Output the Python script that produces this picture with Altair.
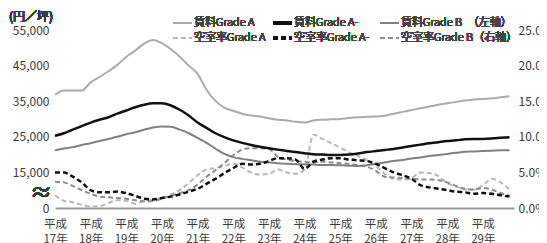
import json
import altair as alt
import pandas as pd

# ---- data (quarterly, 平成17年Q1 .. 平成29年Q4) ----
quarters = list(range(52))
year_labels = ["17年", "18年", "19年", "20年", "21年", "22年", "23年",
               "24年", "25年", "26年", "27年", "28年", "29年"]

rent_a = [36800, 38000, 38000, 38000, 40300, 41800, 43400, 45200, 47500, 49200,
          51200, 52200, 51300, 49600, 47500, 45000, 42700, 38200, 35100, 33200,
          32300, 31500, 31000, 30700, 30200, 29800, 29600, 29200, 29000, 29600,
          29800, 29900, 30000, 30300, 30500, 30600, 30700, 30900, 31500, 32000,
          32500, 33000, 33500, 34000, 34400, 34800, 35200, 35500, 35600, 35800,
          36100, 36400]
rent_am = [25300, 26000, 27000, 28000, 29000, 29800, 30500, 31500, 32400, 33300,
           34000, 34400, 34400, 33800, 32600, 31000, 29000, 27500, 26000, 24900,
           24000, 23300, 22700, 22200, 21800, 21400, 21000, 20700, 20400, 20100,
           20000, 19900, 19900, 20000, 20300, 20700, 21000, 21300, 21600, 22000,
           22400, 22800, 23200, 23500, 23800, 24000, 24300, 24400, 24400, 24500,
           24700, 24900]
rent_b = [21200, 21700, 22100, 22700, 23200, 23800, 24400, 25000, 25700, 26300,
          27000, 27600, 27900, 27800, 27000, 26000, 24700, 23300, 21700, 20200,
          19300, 18800, 18400, 18000, 17800, 17600, 17400, 17300, 17300, 17200,
          17100, 17100, 17000, 16900, 16800, 17000, 17400, 17800, 18200, 18500,
          18900, 19200, 19600, 19900, 20200, 20500, 20800, 20900, 21000, 21100,
          21200, 21200]
vac_a = [1.8, 1.0, 0.8, 0.45, 0.2, 0.25, 0.7, 1.1, 1.0, 0.6,
         1.0, 1.2, 1.4, 1.9, 2.5, 3.5, 4.6, 5.4, 5.6, 5.9,
         6.2, 5.7, 5.0, 4.7, 4.8, 5.4, 5.0, 4.8, 5.4, 10.3,
         9.7, 9.1, 8.5, 7.8, 7.3, 6.7, 5.9, 4.8, 4.1, 4.0,
         4.2, 5.0, 4.9, 4.5, 3.5, 3.0, 2.6, 2.6, 3.2, 4.1,
         3.6, 2.6]
vac_am = [5.0, 5.0, 4.4, 3.6, 2.5, 2.2, 2.2, 2.3, 2.1, 1.7,
          1.3, 1.2, 1.4, 1.6, 1.9, 2.3, 2.7, 3.4, 4.1, 4.9,
          5.6, 6.2, 6.1, 6.2, 6.6, 7.0, 7.0, 6.8, 5.5, 6.5,
          6.8, 7.0, 7.0, 6.8, 6.7, 6.6, 6.2, 5.6, 5.0, 4.6,
          4.1, 3.2, 2.9, 2.7, 2.5, 2.3, 2.2, 2.0, 2.1, 2.0,
          1.8, 1.6]
vac_b = [3.7, 3.6, 3.1, 2.5, 2.0, 1.6, 1.5, 1.4, 1.3, 1.1,
         0.95, 1.0, 1.3, 1.7, 2.1, 2.5, 3.3, 4.4, 5.3, 6.3,
         7.4, 8.2, 8.4, 8.4, 8.3, 7.2, 6.8, 6.6, 6.5, 6.4,
         6.5, 6.4, 6.3, 6.2, 6.0, 5.8, 5.2, 4.4, 4.3, 4.2,
         4.1, 4.0, 4.0, 3.9, 3.6, 3.1, 2.7, 2.6, 2.8, 2.6,
         2.1, 1.7]

series = [
    ("空室率Grade A", "vac", vac_a),
    ("空室率Grade B", "vac", vac_b),
    ("賃料Grade A", "rent", rent_a),
    ("賃料Grade B", "rent", rent_b),
    ("空室率Grade A-", "vac", vac_am),
    ("賃料Grade A-", "rent", rent_am),
]
styles = {
    "空室率Grade A": dict(color="#b8b8b8", strokeWidth=2, strokeDash=[5, 3]),
    "空室率Grade B": dict(color="#8c8c8c", strokeWidth=2, strokeDash=[5, 3]),
    "賃料Grade A": dict(color="#ababab", strokeWidth=2),
    "賃料Grade B": dict(color="#808080", strokeWidth=2),
    "空室率Grade A-": dict(color="#111111", strokeWidth=2.5, strokeDash=[5, 3]),
    "賃料Grade A-": dict(color="#111111", strokeWidth=2.5),
}

rows = []
for name, kind, vals in series:
    for q, v in zip(quarters, vals):
        rows.append({"q": q, "series": name, "kind": kind, "value": v})
df = pd.DataFrame(rows)

FONT = "Noto Sans CJK JP"
TXT = "#3a3a3a"

yscale = alt.Scale(domain=[0, 25], nice=False, zero=True)
xscale = alt.Scale(domain=[0, 51.5], nice=False, zero=False)

x_enc = alt.X(
    "q:Q", scale=xscale, title=None,
    axis=alt.Axis(values=list(range(0, 52, 4)), ticks=False, grid=False,
                  domainColor="#999999", domainWidth=2,
                  labelExpr="['平成', " + json.dumps(year_labels, ensure_ascii=False) + "[datum.value / 4]]",
                  labelFont=FONT, labelFontSize=11.5, labelColor=TXT,
                  labelLineHeight=15, labelPadding=10, labelAngle=0,
                  labelFlush=False, labelOverlap=False, labelBound=False)
)
left_axis = alt.Axis(values=[0, 5, 10, 15, 20, 25], ticks=False, grid=False, domain=False,
                     labelExpr="datum.value == 0 ? '0' : format(datum.value * 2000 + 5000, ',')",
                     labelFont=FONT, labelFontSize=12, labelColor=TXT, labelPadding=6,
                     labelOverlap=False, orient="left")
right_axis = alt.Axis(values=[0, 5, 10, 15, 20, 25], ticks=False, grid=False, domain=False,
                      labelExpr="format(datum.value, '.1f') + '%'",
                      labelFont=FONT, labelFontSize=12, labelColor=TXT, labelPadding=4,
                      labelOverlap=False, orient="right")

base = alt.Chart(df).transform_calculate(
    pos="datum.kind == 'rent' ? (datum.value - 5000) / 2000 : datum.value"
)

layers = []
for i, (name, kind, vals) in enumerate(series):
    if i == 0:
        ax = left_axis
    elif i == 1:
        ax = right_axis
    else:
        ax = None
    layers.append(
        base.transform_filter(alt.datum.series == name)
        .mark_line(interpolate="monotone", **styles[name])
        .encode(x=x_enc, y=alt.Y("pos:Q", scale=yscale, title=None, axis=ax))
    )

# legend (manual)
legend_entries = [
    ("賃料Grade A", 0, 0), ("賃料Grade A-", 1, 0), ("賃料Grade B　（左軸）", 2, 0),
    ("空室率Grade A", 0, 1), ("空室率Grade A-", 1, 1), ("空室率Grade B（右軸）", 2, 1),
]
style_keys = ["賃料Grade A", "賃料Grade A-", "賃料Grade B",
              "空室率Grade A", "空室率Grade A-", "空室率Grade B"]
col_x = [118, 218, 325]
row_y = [-7, 8]
for (label, c, r), key in zip(legend_entries, style_keys):
    st = dict(styles[key])
    layers.append(
        alt.Chart(df).mark_rule(**st).encode(
            x=alt.value(col_x[c]), x2=alt.value(col_x[c] + 19), y=alt.value(row_y[r]))
    )
    layers.append(
        alt.Chart(df).mark_text(text=label, align="left", baseline="middle",
                                font=FONT, fontSize=11, fontWeight=300, color="#444444").encode(
            x=alt.value(col_x[c] + 21), y=alt.value(row_y[r]))
    )

layers.append(
    alt.Chart(df).mark_text(text="(円／坪)", align="left", baseline="middle",
                            font=FONT, fontSize=12, color=TXT).encode(
        x=alt.value(-46), y=alt.value(-13))
)
layers.append(
    alt.Chart(df).mark_text(text="≈", align="center", baseline="middle",
                            font=FONT, fontSize=22, color=TXT).encode(
        x=alt.value(-14), y=alt.value(163))
)

chart = alt.layer(*layers).resolve_axis(y="independent").properties(
    width=459, height=178, autosize="none",
    padding={"left": 47, "top": 22, "right": 25, "bottom": 35},
    background="white",
).configure_view(stroke=None)

chart.save("out.html", embed_options={"renderer": "svg", "actions": False})
